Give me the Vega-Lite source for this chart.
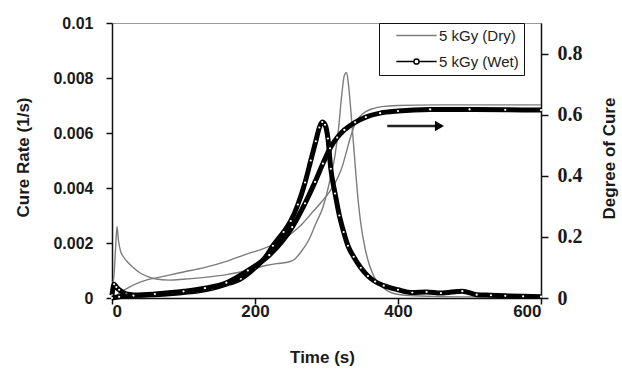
{
  "$schema": "https://vega.github.io/schema/vega-lite/v6.json",
  "width": 429,
  "height": 275,
  "autosize": {"type": "none"},
  "padding": {"left": 112, "top": 23, "right": 81, "bottom": 72},
  "background": "white",
  "config": {
    "view": {"stroke": "#9a9a9a", "strokeWidth": 1},
    "axis": {"grid": false, "domainColor": "#111111", "domainWidth": 1.5, "tickColor": "#111111", "tickWidth": 1.5, "labelColor": "#1a1a1a", "titleColor": "#1a1a1a", "labelFont": "Liberation Sans", "titleFont": "Liberation Sans", "labelFontWeight": "bold", "titleFontWeight": "bold"}
  },
  "datasets": {
    "dryRate": [
      {"t": 0, "v": 0.0003}, {"t": 3, "v": 0.0009}, {"t": 5, "v": 0.0018}, {"t": 7, "v": 0.0026}, {"t": 9, "v": 0.0021}, {"t": 12, "v": 0.0017}, {"t": 16, "v": 0.0015}, {"t": 22, "v": 0.0013}, {"t": 30, "v": 0.0011}, {"t": 40, "v": 0.0009}, {"t": 50, "v": 0.00078}, {"t": 60, "v": 0.0007}, {"t": 80, "v": 0.00065}, {"t": 100, "v": 0.00068}, {"t": 130, "v": 0.00075}, {"t": 160, "v": 0.00085}, {"t": 190, "v": 0.001}, {"t": 215, "v": 0.00118}, {"t": 230, "v": 0.00125}, {"t": 245, "v": 0.0013}, {"t": 255, "v": 0.0014}, {"t": 265, "v": 0.0017}, {"t": 275, "v": 0.0021}, {"t": 285, "v": 0.0027}, {"t": 295, "v": 0.0033}, {"t": 305, "v": 0.0043}, {"t": 312, "v": 0.0052}, {"t": 317, "v": 0.0062}, {"t": 321, "v": 0.0073}, {"t": 325, "v": 0.0081}, {"t": 328, "v": 0.0082}, {"t": 331, "v": 0.0077}, {"t": 335, "v": 0.0065}, {"t": 339, "v": 0.0052}, {"t": 343, "v": 0.0039}, {"t": 348, "v": 0.0027}, {"t": 354, "v": 0.0018}, {"t": 360, "v": 0.0012}, {"t": 368, "v": 0.0007}, {"t": 378, "v": 0.0004}, {"t": 390, "v": 0.0002}, {"t": 410, "v": 0.0001}, {"t": 450, "v": 0.00006}, {"t": 500, "v": 0.00004}, {"t": 550, "v": 0.00003}, {"t": 600, "v": 0.00002}
    ],
    "dryDoc": [
      {"t": 0, "v": 0}, {"t": 5, "v": 0.005}, {"t": 10, "v": 0.015}, {"t": 20, "v": 0.03}, {"t": 35, "v": 0.048}, {"t": 50, "v": 0.06}, {"t": 60, "v": 0.065}, {"t": 80, "v": 0.075}, {"t": 100, "v": 0.085}, {"t": 130, "v": 0.1}, {"t": 160, "v": 0.12}, {"t": 190, "v": 0.145}, {"t": 210, "v": 0.16}, {"t": 230, "v": 0.18}, {"t": 250, "v": 0.21}, {"t": 265, "v": 0.24}, {"t": 280, "v": 0.28}, {"t": 295, "v": 0.32}, {"t": 305, "v": 0.35}, {"t": 315, "v": 0.39}, {"t": 322, "v": 0.43}, {"t": 328, "v": 0.48}, {"t": 334, "v": 0.53}, {"t": 340, "v": 0.57}, {"t": 347, "v": 0.595}, {"t": 355, "v": 0.61}, {"t": 365, "v": 0.62}, {"t": 380, "v": 0.627}, {"t": 400, "v": 0.63}, {"t": 450, "v": 0.632}, {"t": 500, "v": 0.632}, {"t": 600, "v": 0.632}
    ],
    "wetRate": [
      {"t": 0, "v": 0.0001}, {"t": 3, "v": 0.0005}, {"t": 6, "v": 0.0004}, {"t": 10, "v": 0.0003}, {"t": 20, "v": 0.00015}, {"t": 40, "v": 0.0001}, {"t": 60, "v": 0.00012}, {"t": 80, "v": 0.00015}, {"t": 100, "v": 0.0002}, {"t": 120, "v": 0.00025}, {"t": 140, "v": 0.00035}, {"t": 160, "v": 0.0005}, {"t": 180, "v": 0.0007}, {"t": 200, "v": 0.0011}, {"t": 215, "v": 0.0015}, {"t": 225, "v": 0.0019}, {"t": 240, "v": 0.0024}, {"t": 250, "v": 0.0028}, {"t": 260, "v": 0.0034}, {"t": 270, "v": 0.0042}, {"t": 278, "v": 0.005}, {"t": 285, "v": 0.0057}, {"t": 290, "v": 0.0062}, {"t": 294, "v": 0.0064}, {"t": 298, "v": 0.0063}, {"t": 302, "v": 0.0058}, {"t": 306, "v": 0.0047}, {"t": 312, "v": 0.0038}, {"t": 318, "v": 0.003}, {"t": 324, "v": 0.0024}, {"t": 330, "v": 0.0019}, {"t": 338, "v": 0.0015}, {"t": 348, "v": 0.0011}, {"t": 358, "v": 0.0008}, {"t": 368, "v": 0.0006}, {"t": 380, "v": 0.00045}, {"t": 400, "v": 0.0003}, {"t": 420, "v": 0.0002}, {"t": 440, "v": 0.00022}, {"t": 460, "v": 0.00018}, {"t": 490, "v": 0.00025}, {"t": 510, "v": 0.00012}, {"t": 530, "v": 0.0001}, {"t": 550, "v": 0.00008}, {"t": 575, "v": 0.00006}, {"t": 600, "v": 0.00005}
    ],
    "wetDoc": [
      {"t": 0, "v": 0}, {"t": 10, "v": 0.004}, {"t": 30, "v": 0.008}, {"t": 60, "v": 0.013}, {"t": 100, "v": 0.022}, {"t": 130, "v": 0.032}, {"t": 160, "v": 0.05}, {"t": 190, "v": 0.09}, {"t": 220, "v": 0.14}, {"t": 252, "v": 0.232}, {"t": 270, "v": 0.31}, {"t": 284, "v": 0.38}, {"t": 295, "v": 0.44}, {"t": 305, "v": 0.49}, {"t": 315, "v": 0.525}, {"t": 325, "v": 0.55}, {"t": 340, "v": 0.575}, {"t": 355, "v": 0.592}, {"t": 375, "v": 0.605}, {"t": 400, "v": 0.612}, {"t": 445, "v": 0.617}, {"t": 500, "v": 0.617}, {"t": 550, "v": 0.616}, {"t": 600, "v": 0.615}
    ],
    "arrow": [
      {"t": 385, "v": 0.563}, {"t": 452, "v": 0.563}
    ],
    "arrowHead": [
      {"t": 458, "v": 0.563}
    ]
  },
  "layer": [
    {
      "data": {"name": "dryRate"},
      "mark": {"type": "line", "strokeWidth": 1.4, "interpolate": "monotone"},
      "encoding": {
        "x": {"field": "t", "type": "quantitative", "scale": {"domain": [0, 600]}, "axis": {"values": [0, 200, 400, 600], "title": "Time (s)", "labelFontSize": 17, "titleFontSize": 17, "tickSize": 6, "labelPadding": -1, "titleX": 210, "titleY": 59, "titleBaseline": "middle"}},
        "y": {"field": "v", "type": "quantitative", "scale": {"domain": [0, 0.01]}, "axis": {"values": [0, 0.002, 0.004, 0.006, 0.008, 0.01], "format": "~g", "title": "Cure Rate (1/s)", "labelFontSize": 16, "titleFontSize": 17, "tickSize": 6, "labelPadding": 13, "titleX": -89, "titleY": 134, "titleAngle": 270, "titleBaseline": "middle", "titleAlign": "center"}},
        "color": {"datum": "5 kGy (Dry)", "type": "nominal", "scale": {"domain": ["5 kGy (Dry)", "5 kGy (Wet)"], "range": ["#7c7c7c", "#000000"]},
          "legend": {"orient": "none", "legendX": 267, "legendY": 0, "title": null, "padding": 5, "strokeColor": "#111111", "fillColor": "white", "symbolSize": 169, "symbolStrokeWidth": 1.5, "symbolOffset": 25, "labelOffset": 15, "labelFont": "Liberation Sans", "labelFontSize": 15, "labelColor": "#222222", "rowPadding": 10,
            "encode": {"symbols": {"update": {"shape": {"signal": "datum.value == '5 kGy (Wet)' ? 'M-3.1,0H-0.4M0.4,0H3.1M-0.4,0A0.4,0.4 0 1 1 0.4,0A0.4,0.4 0 1 1 -0.4,0' : 'M-3.1,0H3.1'"}, "fill": {"value": "white"}}}}}}
      }
    },
    {
      "data": {"name": "dryDoc"},
      "mark": {"type": "line", "strokeWidth": 1.4, "interpolate": "monotone"},
      "encoding": {
        "x": {"field": "t", "type": "quantitative"},
        "y": {"field": "v", "type": "quantitative", "scale": {"domain": [0, 0.9]}, "axis": {"orient": "right", "values": [0, 0.2, 0.4, 0.6, 0.8], "format": "~g", "title": "Degree of Cure", "labelFont": "Liberation Serif", "labelFontSize": 20, "titleFontSize": 17, "tickSize": 7, "labelPadding": 9, "titleX": 68, "titleY": 135, "titleAngle": 270, "titleBaseline": "middle", "titleAlign": "center"}},
        "color": {"datum": "5 kGy (Dry)", "type": "nominal"}
      }
    },
    {
      "data": {"name": "wetRate"},
      "encoding": {
        "x": {"field": "t", "type": "quantitative"},
        "y": {"field": "v", "type": "quantitative", "scale": {"domain": [0, 0.01]}, "axis": null}
      },
      "layer": [
        {"mark": {"type": "line", "strokeWidth": 5, "interpolate": "monotone"}, "encoding": {"color": {"datum": "5 kGy (Wet)", "type": "nominal"}}},
        {"mark": {"type": "point", "filled": true, "fill": "white", "size": 5, "strokeWidth": 0, "opacity": 1}}
      ]
    },
    {
      "data": {"name": "wetDoc"},
      "encoding": {
        "x": {"field": "t", "type": "quantitative"},
        "y": {"field": "v", "type": "quantitative", "scale": {"domain": [0, 0.9]}, "axis": null}
      },
      "layer": [
        {"mark": {"type": "line", "strokeWidth": 5, "interpolate": "monotone"}, "encoding": {"color": {"datum": "5 kGy (Wet)", "type": "nominal"}}},
        {"mark": {"type": "point", "filled": true, "fill": "white", "size": 5, "strokeWidth": 0, "opacity": 1}}
      ]
    },
    {
      "data": {"name": "arrow"},
      "mark": {"type": "line", "color": "#222222", "strokeWidth": 2.5},
      "encoding": {
        "x": {"field": "t", "type": "quantitative"},
        "y": {"field": "v", "type": "quantitative", "scale": {"domain": [0, 0.9]}, "axis": null}
      }
    },
    {
      "data": {"name": "arrowHead"},
      "mark": {"type": "point", "shape": "triangle-right", "filled": true, "color": "#000000", "size": 110, "opacity": 1},
      "encoding": {
        "x": {"field": "t", "type": "quantitative"},
        "y": {"field": "v", "type": "quantitative", "scale": {"domain": [0, 0.9]}, "axis": null}
      }
    }
  ],
  "resolve": {"scale": {"y": "independent"}}
}
